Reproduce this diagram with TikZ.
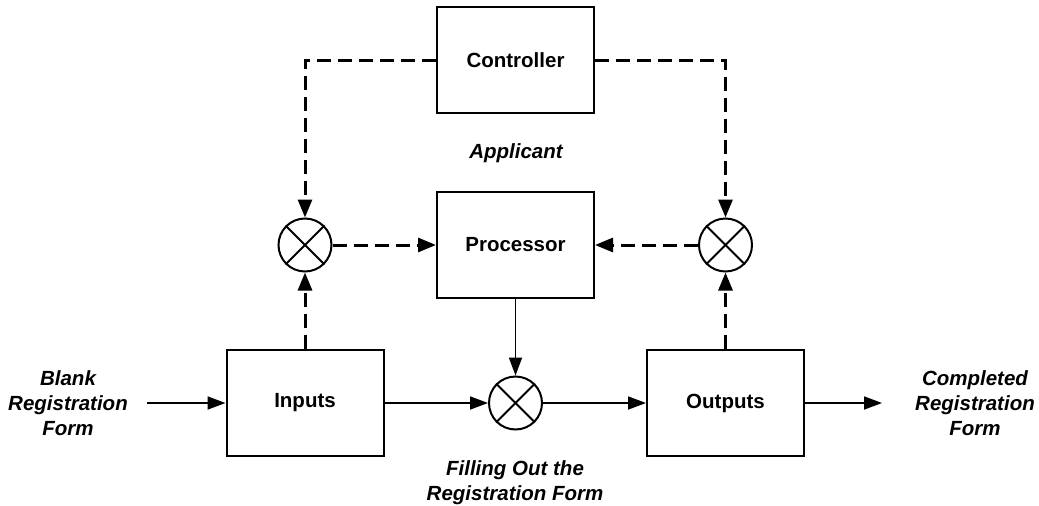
\documentclass[tikz,border=0pt]{standalone}
\usepackage{fontspec}
\setmainfont{Liberation Sans}
\usetikzlibrary{arrows.meta}
\begin{document}
\begin{tikzpicture}[x=1pt,y=-1pt,
  font=\fontsize{20.5}{25}\selectfont,
  block/.style={draw,line width=2pt,minimum width=157pt,minimum height=106pt,inner sep=0pt,font=\fontsize{20.5}{25}\selectfont\bfseries},
  mixer/.style={draw,circle,line width=2pt,minimum size=53pt,inner sep=0pt},
  lbl/.style={align=center,font=\fontsize{20.5}{25}\selectfont\bfseries\itshape},
  flow/.style={line width=1.8pt,-{Triangle[length=18pt,width=13pt]}},
  ctrl/.style={line width=3pt,dash pattern=on 14pt off 7pt,-{Triangle[length=18pt,width=14pt]}}]
\useasboundingbox (0,0) rectangle (1039,506);

\node[block] (controller) at (515.5,60) {Controller};
\node[block] (processor) at (515.5,245) {Processor};
\node[block] (inputs) at (305,403) {Inputs};
\node[block] (outputs) at (725.5,403) {Outputs};

\node[mixer] (mixL) at (305,245) {};
\node[mixer] (mixR) at (725.5,245) {};
\node[mixer] (mixM) at (515.5,403) {};
\foreach \m in {mixL,mixR,mixM}{
  \draw[line width=2pt] (\m.north east) -- (\m.south west)
                        (\m.north west) -- (\m.south east);
}

\node[lbl] (applicant) at (516,153) {Applicant};
\node[lbl] (filling) at (515,483) {Filling Out the\\Registration Form};
\node[lbl] (blank) at (68,403) {Blank\\Registration\\Form};
\node[lbl] (completed) at (975,403) {Completed\\Registration\\Form};

\coordinate (inStart) at (147,403);
\coordinate (outEnd) at (882,403);

% control paths (dashed)
\draw[ctrl] (controller.west) -| (mixL.north);
\draw[ctrl] (controller.east) -| (mixR.north);
\draw[ctrl] (mixL.east) -- (processor.west);
\draw[ctrl] (mixR.west) -- (processor.east);
\draw[ctrl] (inputs.north) -- (mixL.south);
\draw[ctrl] (outputs.north) -- (mixR.south);

% main flow (solid)
\draw[flow] (inStart) -- (inputs.west);
\draw[flow] (inputs.east) -- (mixM.west);
\draw[flow] (processor.south) -- (mixM.north);
\draw[flow] (mixM.east) -- (outputs.west);
\draw[flow] (outputs.east) -- (outEnd);
\end{tikzpicture}
\end{document}
